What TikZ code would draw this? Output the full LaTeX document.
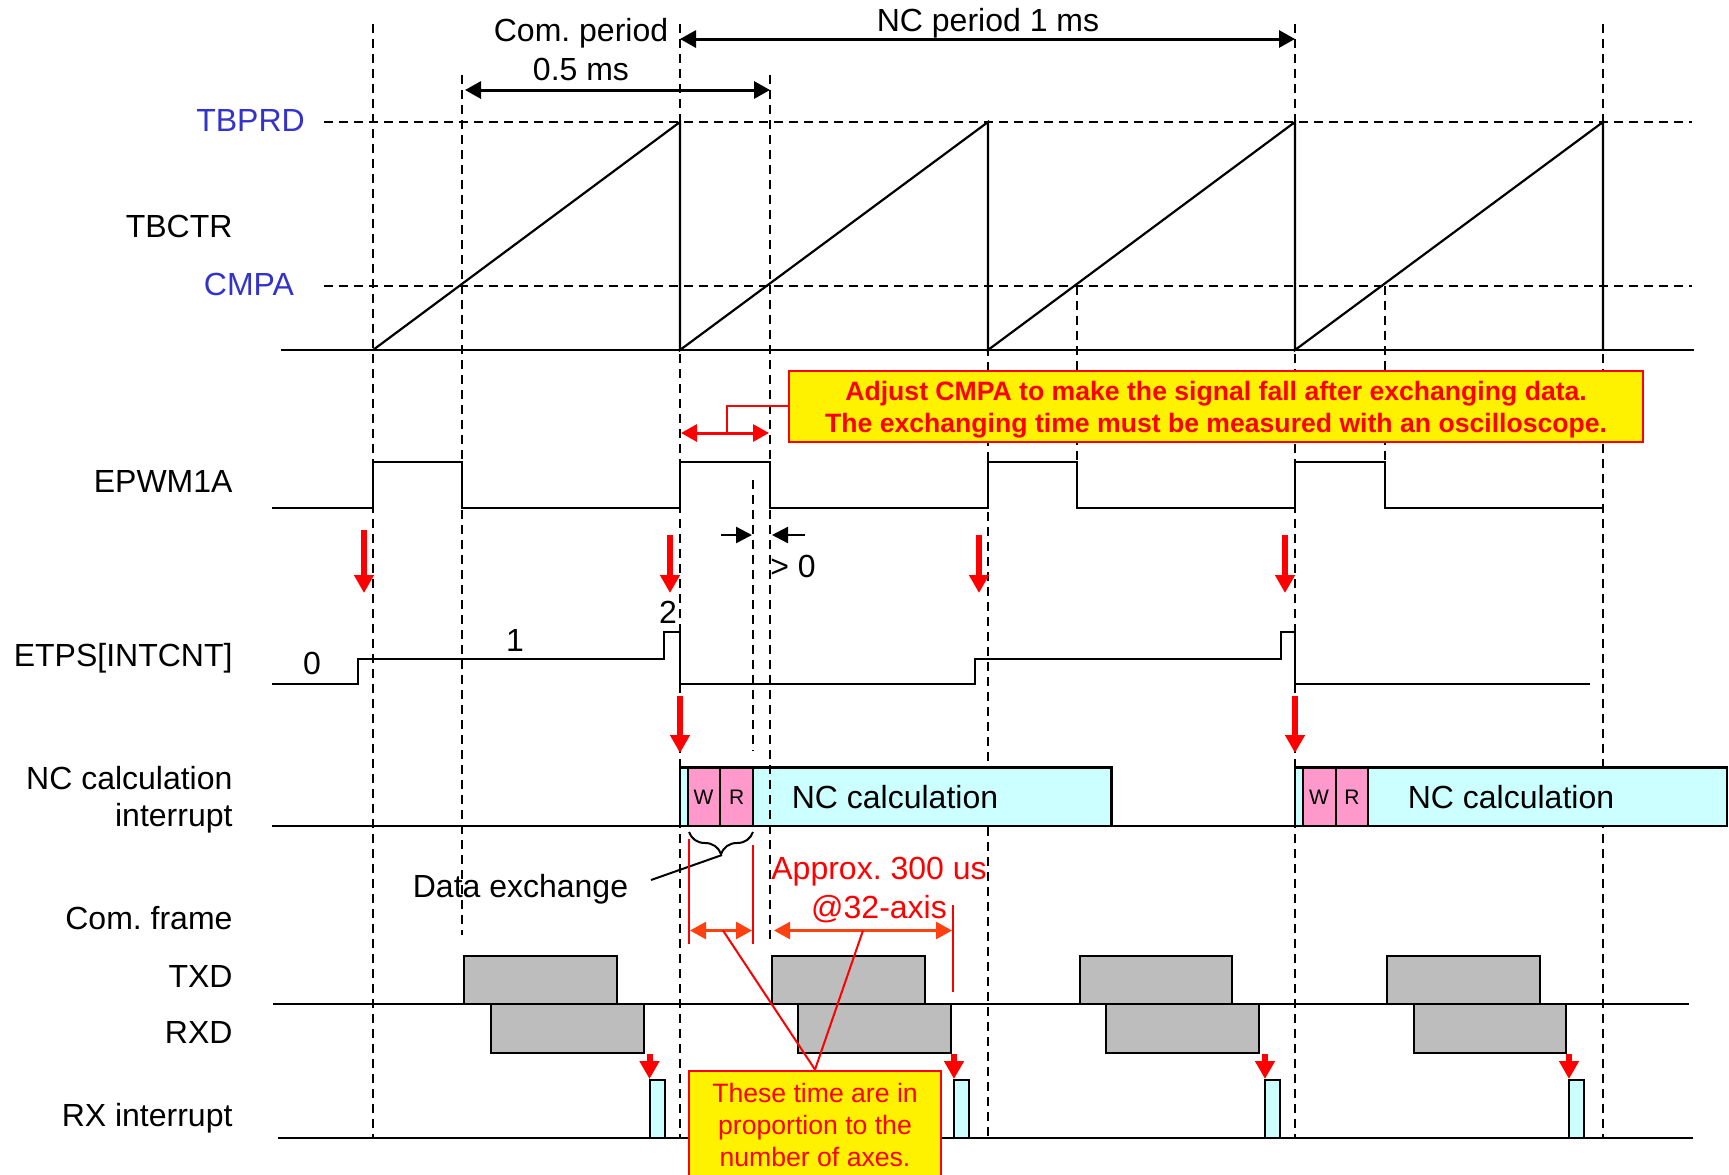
\documentclass[tikz,border=0pt]{standalone}
\usepackage{fontspec}
\setmainfont{Liberation Sans}
\usetikzlibrary{arrows.meta,decorations.pathreplacing}
\definecolor{tblue}{HTML}{3333CC}
\definecolor{nccyan}{HTML}{CCFFFF}
\definecolor{wrpink}{HTML}{FF99CC}
\definecolor{framegray}{HTML}{BDBDBD}
\definecolor{spanred}{HTML}{FF4010}
\frenchspacing

\begin{document}
\begin{tikzpicture}
  [x=.5pt, y=-.5pt, line width=1pt,
   dashline/.style={dash pattern=on 4.5pt off 3pt, line width=1pt},
   level/.style={line width=1.05pt},
   sig/.style={line width=1.1pt, line join=miter},
   lbl/.style={anchor=east, inner sep=0pt, font=\fontsize{16}{19}\selectfont},
   txt/.style={inner sep=0pt, align=center, font=\fontsize{16}{19}\selectfont},
   regname/.style={txt, text=tblue},
   redtxt/.style={txt, text=red},
   span/.style={line width=1.5pt, {Triangle[length=8pt,width=8.5pt]}-{Triangle[length=8pt,width=8.5pt]}},
   redspan/.style={red, line width=1.5pt, {Triangle[length=8pt,width=8.5pt]}-{Triangle[length=8pt,width=8.5pt]}},
   orspan/.style={spanred, line width=1.3pt, {Triangle[length=8pt,width=8.5pt]}-{Triangle[length=8pt,width=8.5pt]}},
   gap/.style={line width=1.2pt, -{Triangle[length=8pt,width=8pt]}},
   redfall/.style={red, line width=3pt, -{Triangle[length=9pt,width=9.5pt]}},
   redtick/.style={red, line width=1pt},
   framebox/.style={fill=framegray, draw=black, line width=1pt},
   rxbox/.style={fill=nccyan, draw=black, line width=1pt},
   ncbox/.style={fill=nccyan, draw=black, line width=1.2pt},
   wrbox/.style={fill=wrpink, draw=black, line width=1pt},
   wrtxt/.style={inner sep=0pt, font=\fontsize{10.5}{12}\selectfont},
   note/.style={fill=yellow, draw=red, line width=1.1pt, text=red, align=center}]

  \clip (0,0) rectangle (1729,1174);
  \fill[white] (0,0) rectangle (1729,1174);

  % Dashed guides
  \foreach \x/\from/\to in {373/24/1138, 462/75/935, 680/24/1138, 988/122/1138, 1295/24/1138,
                            1603/24/1138, 1077/286/462, 1385/286/462, 753/480/751}
    \draw[dashline] (\x,\from) -- (\x,\to);
  \foreach \y in {122,286}
    \draw[dashline] (324,\y) -- (1692,\y);

  % Base lines
  \draw[level] (281,350) -- (1694,350);
  \draw[level] (272,826) -- (1690,826);
  \draw[level] (273,1004) -- (1689,1004);
  \draw[level] (278,1138) -- (1693,1138);

  % TBCTR
  \draw[sig] (373,350) -- (680,122) -- (680,350) -- (988,122) -- (988,350)
             -- (1295,122) -- (1295,350) -- (1603,122) -- (1603,350);

  % EPWM1A
  \draw[sig] (272,508) -- (373,508) -- (373,462) -- (462,462) -- (462,508) -- (680,508)
             -- (680,462) -- (770,462) -- (770,508) -- (988,508) -- (988,462) -- (1077,462)
             -- (1077,508) -- (1295,508) -- (1295,462) -- (1385,462) -- (1385,508) -- (1603,508);

  % ETPS[INTCNT]
  \draw[sig] (272,684) -- (358,684) -- (358,659) -- (664,659) -- (664,632) -- (680,632)
             -- (680,684) -- (975,684) -- (975,659) -- (1281,659) -- (1281,632) -- (1295,632)
             -- (1295,684) -- (1590,684);

  % NC calculation
  \foreach \x/\xe in {680/1111.5, 1295/1727}
    \draw[ncbox] (\x,767.5) rectangle (\xe,826);
  \foreach \x/\xe in {688/720, 720/753, 1303/1335.5, 1335.5/1368}
    \draw[wrbox] (\x,767.5) rectangle (\xe,826);
  \node[wrtxt] (w1) at (703.5,797) {W};
  \node[wrtxt] (r1) at (736.6,797) {R};
  \node[wrtxt] (w2) at (1319,797) {W};
  \node[wrtxt] (r2) at (1352,797) {R};
  \node[txt] (calc1) at (895,797) {NC calculation};
  \node[txt] (calc2) at (1511,797) {NC calculation};

  % Guide that stays over the NC box
  \draw[dashline] (770,75) -- (770,944);

  % Com. frame
  \foreach \x in {464,772,1079.5,1387}
    \draw[framebox] (\x,956) rectangle +(152.5,48);
  \foreach \x in {491,798,1106,1413.5}
    \draw[framebox] (\x,1004) rectangle +(152.5,49);
  \foreach \x in {649.5,954,1265,1569}
    \draw[rxbox] (\x,1079.5) rectangle +(15,58.5);

  % Red event arrows
  \foreach \x/\from/\to in {364/530/593, 670/535/593, 979/535/593, 1285/535/593, 680/696/753, 1295/696/753}
    \draw[redfall] (\x,\from) -- (\x,\to);
  \foreach \x in {649.5,954,1265,1569}
    \draw[redfall] (\x,1054) -- (\x,1079);

  % Periods
  \coordinate (nc1) at (680,39);
  \coordinate (nc2) at (1295,39);
  \coordinate (com1) at (465,90);
  \coordinate (com2) at (770,90);
  \draw[span] (nc1) -- (nc2);
  \draw[span] (com1) -- (com2);
  \node[txt] (comperiod) at (581,33) {Com. period};
  \node[txt] (comtime) at (581,69.5) {0.5 ms};
  \node[txt] (ncperiod) at (988,23) {NC period 1 ms};

  % Row names
  \node[regname] (tbprd) at (250.5,120) {TBPRD};
  \node[regname] (cmpa) at (249,284.5) {CMPA};
  \node[lbl] (tbctr) at (233.5,226) {TBCTR};
  \node[lbl] (epwm) at (233.5,481) {EPWM1A};
  \node[lbl] (etps) at (233.5,658.5) {ETPS[INTCNT]};
  \node[lbl] (ncint) at (233.5,778) {NC calculation};
  \node[lbl] (ncint2) at (233.5,818.5) {interrupt};
  \node[lbl] (comframe) at (233.5,918.5) {Com. frame};
  \node[lbl] (txd) at (233.5,976) {TXD};
  \node[lbl] (rxd) at (233.5,1032) {RXD};
  \node[lbl] (rxint) at (233.5,1118.5) {RX interrupt};
  \node[txt] (cnt0) at (312,663) {0};
  \node[txt] (cnt1) at (515,640) {1};
  \node[txt] (cnt2) at (668,612) {2};

  % Margin to the falling edge
  \coordinate (gapa) at (721,535);
  \coordinate (gapb) at (752,535);
  \coordinate (gapc) at (805,535);
  \coordinate (gapd) at (772,535);
  \draw[gap] (gapa) -- (gapb);
  \draw[gap] (gapc) -- (gapd);
  \node[txt] (gapval) at (793,566) {> 0};

  % Upper note
  \node[note, anchor=north west, minimum width=427pt, minimum height=35.75pt, inner sep=0pt,
        font=\bfseries\fontsize{13.3}{16}\selectfont] (adjust) at (788,369.5)
    {\rule{0pt}{13pt}Adjust CMPA to make the signal fall after exchanging data.\\
     The exchanging time must be measured with an oscilloscope.};
  \coordinate (adj1) at (681,433);
  \coordinate (adj2) at (769,433);
  \coordinate (adjmid) at (726.7,433);
  \draw[redspan] (adj1) -- (adj2);
  \draw[redtick] (adjust.west |- 0,405.7) -| (adjmid);

  % Data exchange
  \coordinate (bracea) at (689,832);
  \coordinate (braceb) at (753,832);
  \coordinate (bracetip) at (722,855);
  \coordinate (dataend) at (651,880);
  \draw[decorate, decoration={brace, mirror, amplitude=11pt}] (bracea) -- (braceb);
  \draw (bracetip) -- (dataend);
  \node[txt] (dataex) at (520.5,889) {Data exchange};

  % Approx. times
  \foreach \x/\from/\to in {689/839/944, 753/845/944, 952.7/905/992}
    \draw[redtick] (\x,\from) -- (\x,\to);
  \coordinate (ta) at (690,930.5);
  \coordinate (tamid) at (723,930.5);
  \coordinate (tb) at (752,930.5);
  \coordinate (tc) at (774,930.5);
  \coordinate (tcmid) at (863,930.5);
  \coordinate (td) at (952,930.5);
  \draw[orspan] (ta) -- (tb);
  \draw[orspan] (tc) -- (td);
  \node[redtxt] (approx) at (879,872) {Approx. 300 us};
  \node[redtxt] (axis) at (879,909) {@32-axis};

  % Lower note
  \node[note, anchor=north, minimum width=126pt, inner xsep=0pt, inner ysep=6.5pt,
        font=\fontsize{13.3}{15.9}\selectfont] (axes) at (815,1069.6)
    {These time are in\\ proportion to the\\ number of axes.};
  \draw[redtick] (tamid) -- (axes.north);
  \draw[redtick] (tcmid) -- (axes.north);
\end{tikzpicture}
\end{document}
